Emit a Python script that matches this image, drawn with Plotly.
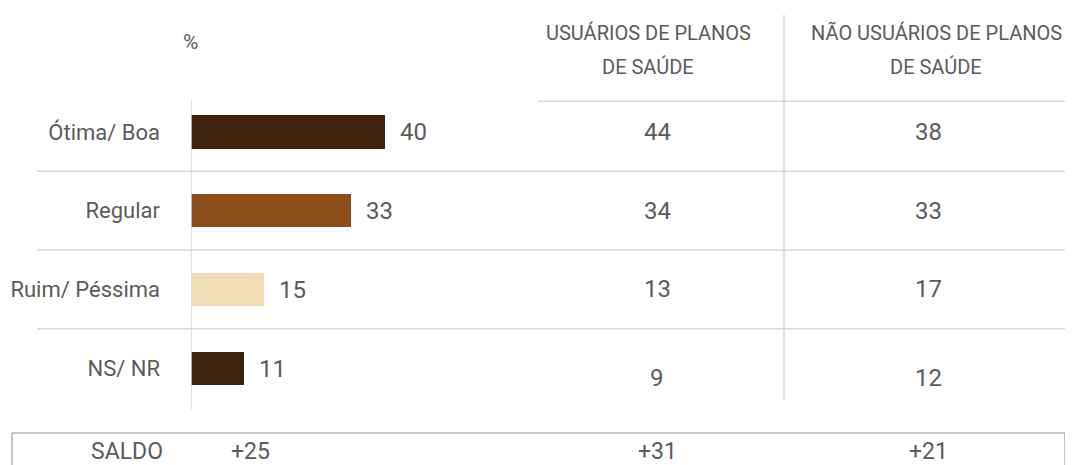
import plotly.graph_objects as go

# Dados
categorias = ["Ótima/ Boa", "Regular", "Ruim/ Péssima", "NS/ NR"]
total = [40, 33, 15, 11]
usuarios_planos = [44, 34, 13, 9]
nao_usuarios_planos = [38, 33, 17, 12]
cabecalhos = [
    ["USUÁRIOS DE PLANOS", "DE SAÚDE"],
    ["NÃO USUÁRIOS DE PLANOS", "DE SAÚDE"],
]
saldo_rotulo = "SALDO"
saldo_valores = ["+25", "+31", "+21"]

CORES_BARRAS = ["#3D230D", "#8B4E1A", "#F2DCB5", "#3D230D"]
COR_TEXTO = "#5B5B5B"
COR_LINHA = "#D9D9D9"
FONTE = "Roboto, sans-serif"

# A página tem margem de 8 px; as posições abaixo são em pixels da página.
MARGEM_PAGINA = 8
LARGURA = 1073 - MARGEM_PAGINA
ALTURA = 465 - MARGEM_PAGINA


def px_x(x):
    return (x - MARGEM_PAGINA) / LARGURA


def px_y(y):
    return 1 - (y - MARGEM_PAGINA) / ALTURA


X_EIXO = 191        # pixel onde começa a barra
PX_POR_UNIDADE = 4.85
COL_X = [657, 928]

fonte_texto = dict(size=24, color=COR_TEXTO, family=FONTE)

fig = go.Figure()
fig.add_trace(
    go.Bar(
        x=total,
        y=categorias,
        orientation="h",
        marker=dict(color=CORES_BARRAS, line=dict(width=0)),
        width=0.42,
        text=total,
        texttemplate="\u00a0\u00a0%{text}",
        textposition="outside",
        textfont=fonte_texto,
        cliponaxis=False,
        hoverinfo="skip",
    )
)

# Linhas horizontais separando as categorias
for i in range(len(categorias) - 1):
    fig.add_shape(
        type="line", xref="paper", yref="y",
        x0=px_x(37), x1=px_x(1070), y0=i + 0.5, y1=i + 0.5,
        line=dict(color=COR_LINHA, width=1.5),
    )
# Linha superior da tabela à direita
fig.add_shape(
    type="line", xref="paper", yref="y",
    x0=px_x(538), x1=px_x(1073), y0=-0.39, y1=-0.39,
    line=dict(color=COR_LINHA, width=1.5),
)
# Eixo vertical das barras
fig.add_shape(
    type="line", xref="x", yref="y",
    x0=0, x1=0, y0=-0.41, y1=3.53,
    line=dict(color=COR_LINHA, width=1.5),
)
# Divisória entre as colunas da tabela
fig.add_shape(
    type="line", xref="paper", yref="y",
    x0=px_x(784), x1=px_x(784), y0=-1.49, y1=3.4,
    line=dict(color=COR_LINHA, width=1.5),
)
# Caixa do saldo
fig.add_shape(
    type="rect", xref="paper", yref="paper",
    x0=px_x(12), x1=px_x(1065), y0=-0.05, y1=px_y(433),
    line=dict(color="#8C8C8C", width=1),
)

# Valores da tabela
for col, valores in enumerate([usuarios_planos, nao_usuarios_planos]):
    for i, (cat, v) in enumerate(zip(categorias, valores)):
        fig.add_annotation(
            x=px_x(COL_X[col]), xref="paper", y=cat, yref="y",
            xanchor="center", yanchor="middle",
            text=str(v), showarrow=False, font=fonte_texto,
            yshift=-10 if i == len(categorias) - 1 else 0,
        )

# Cabeçalhos (duas linhas cada)
for x_cab, linhas in zip([648, 936], cabecalhos):
    for y_lin, linha in zip([33, 67], linhas):
        fig.add_annotation(
            x=px_x(x_cab), xref="paper", y=px_y(y_lin), yref="paper",
            xanchor="center", yanchor="middle",
            text=linha, showarrow=False,
            font=dict(size=20, color=COR_TEXTO, family=FONTE),
        )
fig.add_annotation(
    x=px_x(190), xref="paper", y=px_y(42), yref="paper",
    xanchor="center", yanchor="middle",
    text="%", showarrow=False, font=dict(size=21, color=COR_TEXTO, family=FONTE),
)

# Linha do saldo
fig.add_annotation(
    x=px_x(127), xref="paper", y=px_y(451), yref="paper",
    xanchor="center", yanchor="middle",
    text=saldo_rotulo, showarrow=False,
    font=dict(size=23, color=COR_TEXTO, family=FONTE),
)
for x_s, s in zip([250] + COL_X, saldo_valores):
    fig.add_annotation(
        x=px_x(x_s), xref="paper", y=px_y(451), yref="paper",
        xanchor="center", yanchor="middle",
        text=s, showarrow=False,
        font=dict(size=23, color=COR_TEXTO, family=FONTE),
    )

# Mapeamento vertical: centro da 1ª categoria em y=132 px, 78.7 px por categoria
passo = 78.7
centro0 = 132 - MARGEM_PAGINA
y_topo = -centro0 / passo
y_base = (ALTURA - centro0) / passo

fig.update_xaxes(
    domain=[px_x(X_EIXO), 1],
    range=[0, (1073 - X_EIXO) / PX_POR_UNIDADE],
    visible=False,
    automargin=False,
)
fig.update_yaxes(
    domain=[0, 1],
    range=[y_base, y_topo],
    showgrid=False, zeroline=False, showline=False,
    ticks="", ticklabelstandoff=30,
    tickfont=dict(size=22, color=COR_TEXTO, family=FONTE),
    automargin=False,
)
fig.update_layout(
    width=LARGURA, height=ALTURA,
    margin=dict(l=0, r=0, t=0, b=0),
    plot_bgcolor="white", paper_bgcolor="white",
    showlegend=False,
    bargap=0,
)

fig.write_html("out.html")
